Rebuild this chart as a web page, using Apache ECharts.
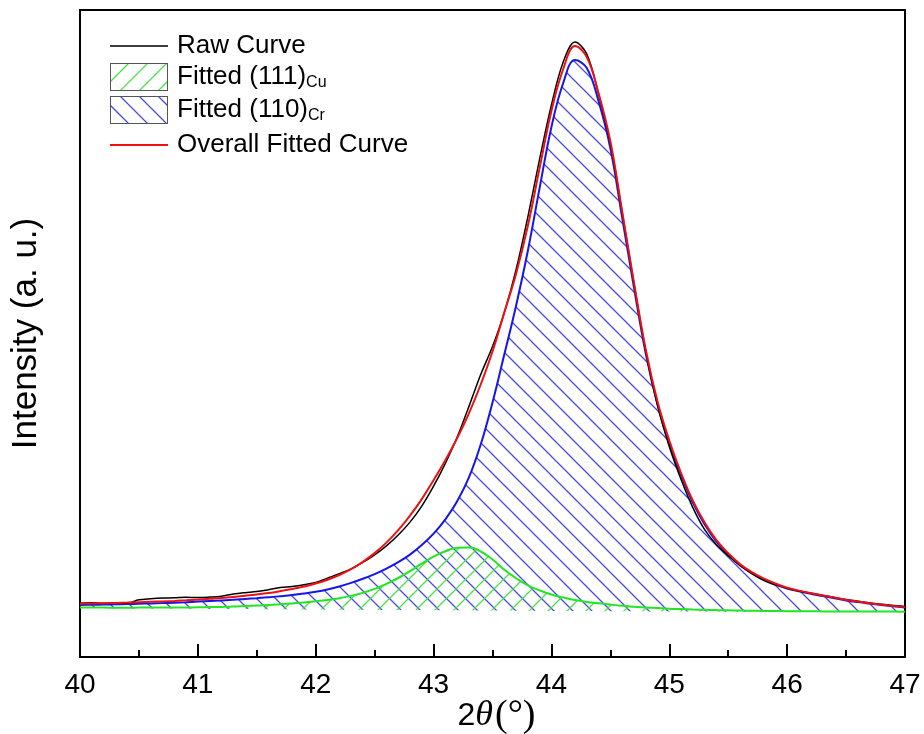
<!DOCTYPE html>
<html>
<head>
<meta charset="utf-8">
<script src="https://cdn.jsdelivr.net/npm/echarts@6/dist/echarts.min.js"></script>
<style>html,body{margin:0;padding:0;background:#fff}#c{width:924px;height:734px}</style>
</head>
<body>
<div id="c"></div>
<script>
// 2θ sampling grid (degrees)
const theta = [
  40.0,40.1,40.2,40.3,40.4,40.5,40.6,40.7,40.8,40.9,
  41.0,41.1,41.2,41.3,41.4,41.5,41.6,41.7,41.8,41.9,
  42.0,42.1,42.2,42.3,42.4,42.5,42.6,42.7,42.8,42.9,
  43.0,43.1,43.2,43.3,43.4,43.5,43.6,43.7,43.8,43.9,
  44.0,44.1,44.2,44.3,44.4,44.5,44.6,44.7,44.8,44.9,
  45.0,45.1,45.2,45.3,45.4,45.5,45.6,45.7,45.8,45.9,
  46.0,46.1,46.2,46.3,46.4,46.5,46.6,46.7,46.8,46.9,47.0
];
// background level (a.u.)
const background = [
  49.0,48.9,48.8,48.7,48.6,48.6,48.5,48.4,48.3,48.2,
  48.2,48.1,48.0,47.9,47.9,47.8,47.7,47.7,47.6,47.5,
  47.5,47.4,47.3,47.3,47.2,47.1,47.1,47.0,46.9,46.9,
  46.8,46.7,46.7,46.6,46.5,46.5,46.4,46.3,46.2,46.1,
  46.0,46.0,45.9,45.9,45.8,45.8,45.7,45.7,45.6,45.6,
  45.5,45.5,45.4,45.4,45.3,45.3,45.2,45.2,45.1,45.1,
  45.0,45.0,45.0,45.0,45.0,45.0,45.0,45.0,45.0,45.0,45.0
];
// intensities above background (a.u.)
const rawCurve = [
  4.8,5.3,4.9,5.4,5.2,8.6,9.8,10.6,10.9,11.6,
  11.2,11.8,12.8,15.0,16.4,17.6,19.6,21.7,23.0,24.8,
  27.0,31.5,36.0,40.8,47.5,55,64,75,88,104,
  124,147,173,204,236,264,298,341,394,452,
  506,549,569,557,517,468,399,328,260,206,
  165,132,104,82,67,56,46.5,38.5,31.5,27.0,
  23.8,21.0,18.8,16.8,14.6,12.4,10.8,9.1,7.8,6.6,5.4
];
const cuPeak = [
  0.5,0.5,0.6,0.6,0.7,0.8,0.9,1.0,1.1,1.3,
  1.5,1.8,2.1,2.5,3.0,3.6,4.3,5.1,6.0,7.0,
  8.2,9.7,11.5,13.8,17,21,26,32,39,46.5,
  53.5,59,62.5,63,59,51,41,32.5,25.5,20.5,
  16.5,13.5,11,9.2,8,6.6,5.5,4.6,3.9,3.3,
  2.8,2.4,2.1,1.8,1.6,1.4,1.2,1.1,1.0,0.9,
  0.8,0.7,0.7,0.6,0.6,0.5,0.5,0.4,0.4,0.4,0.3
];
const crPeak = [
  3.0,3.3,3.6,4.0,4.3,4.7,5.1,5.5,6.0,6.6,
  7.2,7.9,8.6,9.3,10.1,11.0,12.0,13.1,14.4,16.0,
  17.8,20.2,23.2,26.8,31,35.8,41.3,47.8,55.5,65,
  76.5,91,109,133,166,208,256,305,360,423,
  484,528,551,543,510,463,394,324,258,207,
  168,136,109,87,70,57,46.5,38.5,32.5,27.5,
  23.5,20.7,18.2,16,13.8,11.6,9.9,8.4,7.0,5.7,4.6
];
const overallFit = [
  4.3,4.6,5.0,5.4,5.8,6.2,6.7,7.2,7.8,8.5,
  9.2,10.1,11.0,12.1,13.3,14.7,16.3,18.2,20.4,23.0,
  26.0,29.9,34.7,40.6,48,56.8,67.3,79.8,94.5,111,
  130,150,172,197,226,259,298,337,385,443,
  500,542,565,554,518,470,400,329,262,210,
  171,138.5,111,89,71.5,58.4,47.7,39.6,33.5,28.4,
  24.3,21.4,18.9,16.6,14.4,12.1,10.4,8.8,7.4,6.1,4.9
];
const legendNames = ['Raw Curve', 'Fitted (111)Cu', 'Fitted (110)Cr', 'Overall Fitted Curve'];

const SANS = "'Liberation Sans', Arial, Helvetica, sans-serif";
const SERIF = "'Liberation Serif', 'Times New Roman', serif";

function hatchTile(color, dir, size, lw) {
  const c = document.createElement('canvas');
  c.width = size; c.height = size;
  const g = c.getContext('2d');
  g.strokeStyle = color; g.lineWidth = lw;
  g.beginPath();
  for (let k = -1; k <= 1; k++) {
    const o = k * size;
    if (dir === 'back') { g.moveTo(o - 1, -1); g.lineTo(o + size + 1, size + 1); }
    else { g.moveTo(o - 1, size + 1); g.lineTo(o + size + 1, -1); }
  }
  g.stroke();
  return c;
}
function hatchIcon(color, dir, w, h, step, lw) {
  const c = document.createElement('canvas');
  c.width = w; c.height = h;
  const g = c.getContext('2d');
  g.save();
  g.beginPath(); g.rect(0, 0, w, h); g.clip();
  g.strokeStyle = color; g.lineWidth = lw;
  g.beginPath();
  for (let x = -h; x < w + h; x += step) {
    if (dir === 'back') { g.moveTo(x, 0); g.lineTo(x + h, h); }
    else { g.moveTo(x, h); g.lineTo(x + h, 0); }
  }
  g.stroke();
  g.restore();
  g.strokeStyle = '#555'; g.lineWidth = 1;
  g.strokeRect(0.5, 0.5, w - 1, h - 1);
  return 'image://' + c.toDataURL();
}
function lineIcon(color, width, w, h) {
  const c = document.createElement('canvas');
  c.width = w; c.height = h;
  const g = c.getContext('2d');
  g.strokeStyle = color; g.lineWidth = width;
  g.beginPath(); g.moveTo(0, h / 2); g.lineTo(w, h / 2); g.stroke();
  return 'image://' + c.toDataURL();
}

const BLUE = '#1515e8', GREEN = '#22e622', RED = '#ee1111';
const BLUE_HATCH = 'rgb(70,70,235)', GREEN_HATCH = 'rgb(70,225,70)';
const blueHatch = hatchTile(BLUE_HATCH, 'back', 19, 1.25);
const greenHatch = hatchTile(GREEN_HATCH, 'fwd', 19, 1.25);
const icons = [
  lineIcon('#000', 1.5, 58, 28),
  hatchIcon(GREEN_HATCH, 'fwd', 58, 28, 19, 1.25),
  hatchIcon(BLUE_HATCH, 'back', 58, 28, 19, 1.25),
  lineIcon(RED, 2, 58, 28)
];

// [value, 2θ] pairs (value first so stacking applies to the intensity dimension)
const pairs = arr => theta.map((t, i) => [arr[i], t]);
const ENC = { x: 1, y: 0 };

function baseSeries(stack) {
  return {
    name: 'bg_' + stack, type: 'line', stack: stack, data: pairs(background), encode: ENC,
    symbol: 'none', smooth: 0.4, silent: true, lineStyle: { opacity: 0, width: 0 },
    itemStyle: { opacity: 0 }
  };
}

const legendText = {
  color: '#000', fontFamily: SANS, fontSize: 26, lineHeight: 28, padding: [0, 0, 0, 4],
  rich: {
    m: { color: '#000', fontFamily: SANS, fontSize: 26, lineHeight: 28, padding: [7, 0, 7, 0] },
    s: { color: '#000', fontFamily: SANS, fontSize: 16, lineHeight: 16, verticalAlign: 'bottom' }
  }
};
function legendFor(i, top) {
  return {
    orient: 'vertical', left: 110, top: top, padding: 0,
    itemWidth: 58, itemHeight: 28, itemGap: 0,
    data: [{ name: legendNames[i], icon: icons[i] }],
    formatter: function (name) {
      if (name === legendNames[1]) return '{m|Fitted (111)}{s|Cu}';
      if (name === legendNames[2]) return '{m|Fitted (110)}{s|Cr}';
      return name;
    },
    textStyle: legendText
  };
}

const chart = echarts.init(document.getElementById('c'));
chart.setOption({
  animation: false,
  backgroundColor: '#fff',
  grid: {
    left: 80, right: 19, top: 10, bottom: 77, containLabel: false, outerBoundsMode: 'none',
    show: true, borderColor: '#000', borderWidth: 2, backgroundColor: 'transparent'
  },
  legend: [legendFor(0, 32), legendFor(1, 57), legendFor(2, 90), legendFor(3, 131)],
  xAxis: {
    type: 'value', min: 40, max: 47, interval: 1,
    axisLine: { show: true, onZero: false, lineStyle: { color: '#000', width: 2 } },
    axisTick: { show: true, inside: true, length: 13, lineStyle: { color: '#000', width: 2 } },
    minorTick: { show: true, splitNumber: 2, length: 7, lineStyle: { color: '#000', width: 2 } },
    splitLine: { show: false },
    axisLabel: { color: '#000', fontFamily: SANS, fontSize: 28, margin: 14 },
    name: '{a|2}{b|θ}{c|(°)}',
    nameLocation: 'middle', nameGap: 40, nameMoveOverlap: false,
    nameTextStyle: {
      padding: [0, 0, 0, 8],
      rich: {
        a: { fontFamily: SANS, fontSize: 32, color: '#000' },
        b: { fontFamily: SERIF, fontStyle: 'italic', fontSize: 36, color: '#000' },
        c: { fontFamily: SERIF, fontSize: 38, color: '#000', padding: [0, 0, 0, 2] }
      }
    }
  },
  yAxis: {
    type: 'value', min: 0, max: 647,
    axisLine: { show: true, lineStyle: { color: '#000', width: 2 } },
    axisTick: { show: false }, axisLabel: { show: false }, splitLine: { show: false },
    name: 'Intensity (a. u.)', nameLocation: 'middle', nameGap: 36,
    nameTextStyle: { color: '#000', fontFamily: SANS, fontSize: 35 }
  },
  series: [
    baseSeries('cr'),
    {
      name: legendNames[2], type: 'line', stack: 'cr', data: pairs(crPeak), encode: ENC, symbol: 'none', smooth: 0.4,
      lineStyle: { color: BLUE, width: 2 }, itemStyle: { color: BLUE },
      areaStyle: { color: { image: blueHatch, repeat: 'repeat' }, opacity: 1 }
    },
    baseSeries('cu'),
    {
      name: legendNames[1], type: 'line', stack: 'cu', data: pairs(cuPeak), encode: ENC, symbol: 'none', smooth: 0.5,
      lineStyle: { color: GREEN, width: 2 }, itemStyle: { color: GREEN },
      areaStyle: { color: { image: greenHatch, repeat: 'repeat' }, opacity: 1 }
    },
    baseSeries('raw'),
    {
      name: legendNames[0], type: 'line', stack: 'raw', data: pairs(rawCurve), encode: ENC, symbol: 'none', smooth: 0.35,
      lineStyle: { color: '#000', width: 1.5 }, itemStyle: { color: '#000' }
    },
    baseSeries('fit'),
    {
      name: legendNames[3], type: 'line', stack: 'fit', data: pairs(overallFit), encode: ENC, symbol: 'none', smooth: 0.4,
      lineStyle: { color: RED, width: 2 }, itemStyle: { color: RED }
    }
  ]
});
</script>
</body>
</html>
